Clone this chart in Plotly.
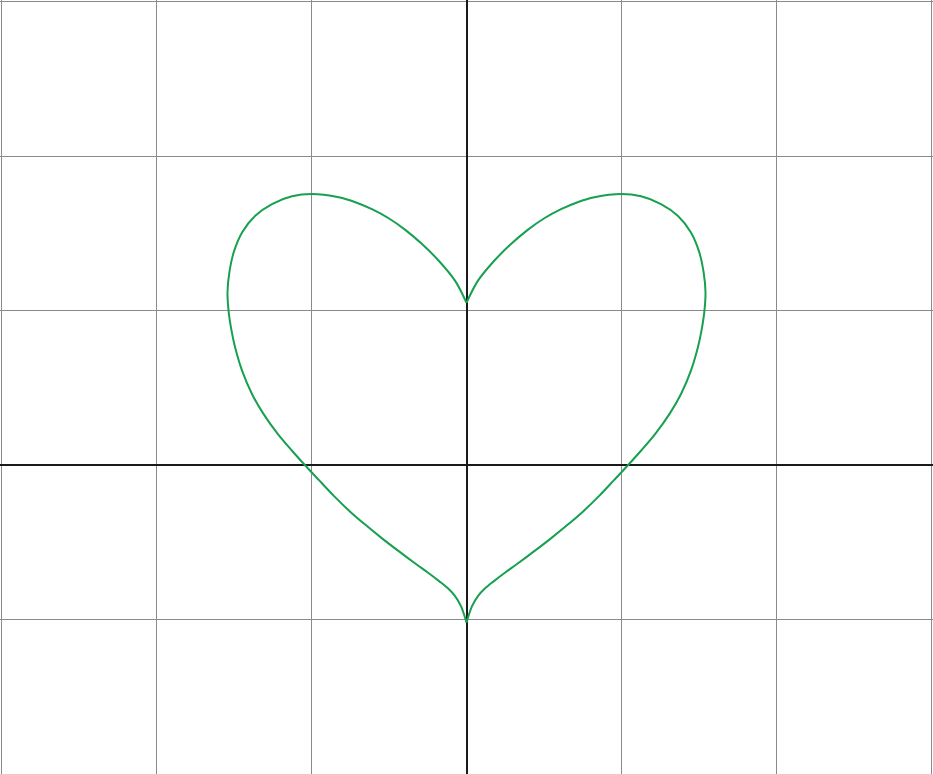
import plotly.graph_objects as go

# Right half of the heart, from top cusp down to bottom cusp
right_x = [0.0, 0.072, 0.179, 0.287, 0.395, 0.502, 0.610, 0.717, 0.825, 1.000,
           1.126, 1.255, 1.363, 1.448, 1.502, 1.530, 1.542, 1.534, 1.516, 1.493,
           1.448, 1.384, 1.310, 1.218, 1.127, 1.043, 0.952, 0.856, 0.756, 0.650,
           0.541, 0.433, 0.326, 0.250, 0.175, 0.120, 0.075, 0.035, 0.0]
right_y = [1.05, 1.190, 1.322, 1.430, 1.522, 1.597, 1.656, 1.701, 1.733, 1.754,
           1.739, 1.689, 1.613, 1.505, 1.376, 1.247, 1.117, 0.988, 0.870, 0.762,
           0.611, 0.460, 0.331, 0.202, 0.094, 0.0, -0.098, -0.200, -0.297, -0.389,
           -0.478, -0.561, -0.641, -0.696, -0.753, -0.798, -0.847, -0.915, -1.02]

# Left half is the mirror image
left_x = [-v for v in right_x]
left_y = list(right_y)

line_style = dict(color="#17a050", width=2, shape="spline", smoothing=0.9)
fig = go.Figure()
fig.add_trace(go.Scatter(x=right_x, y=right_y, mode="lines", line=line_style,
                         hoverinfo="skip", showlegend=False))
fig.add_trace(go.Scatter(x=left_x, y=left_y, mode="lines", line=line_style,
                         hoverinfo="skip", showlegend=False))

axis_common = dict(showgrid=True, gridcolor="#8a8a8a", gridwidth=1, dtick=1,
                   zeroline=True, zerolinecolor="#1a1a1a", zerolinewidth=1.6,
                   showticklabels=False, ticks="", showline=False, fixedrange=True)
fig.update_layout(
    width=933, height=774,
    margin=dict(l=0, r=0, t=0, b=0),
    paper_bgcolor="white", plot_bgcolor="white",
    xaxis=dict(range=[-3.0097, 3.0097], tick0=0, **axis_common),
    yaxis=dict(range=[-2.0, 3.0097], tick0=0, **axis_common),
)
fig.write_html("out.html", config={"displayModeBar": False},
               post_script="document.body.style.margin='0';document.body.style.overflow='hidden';")
